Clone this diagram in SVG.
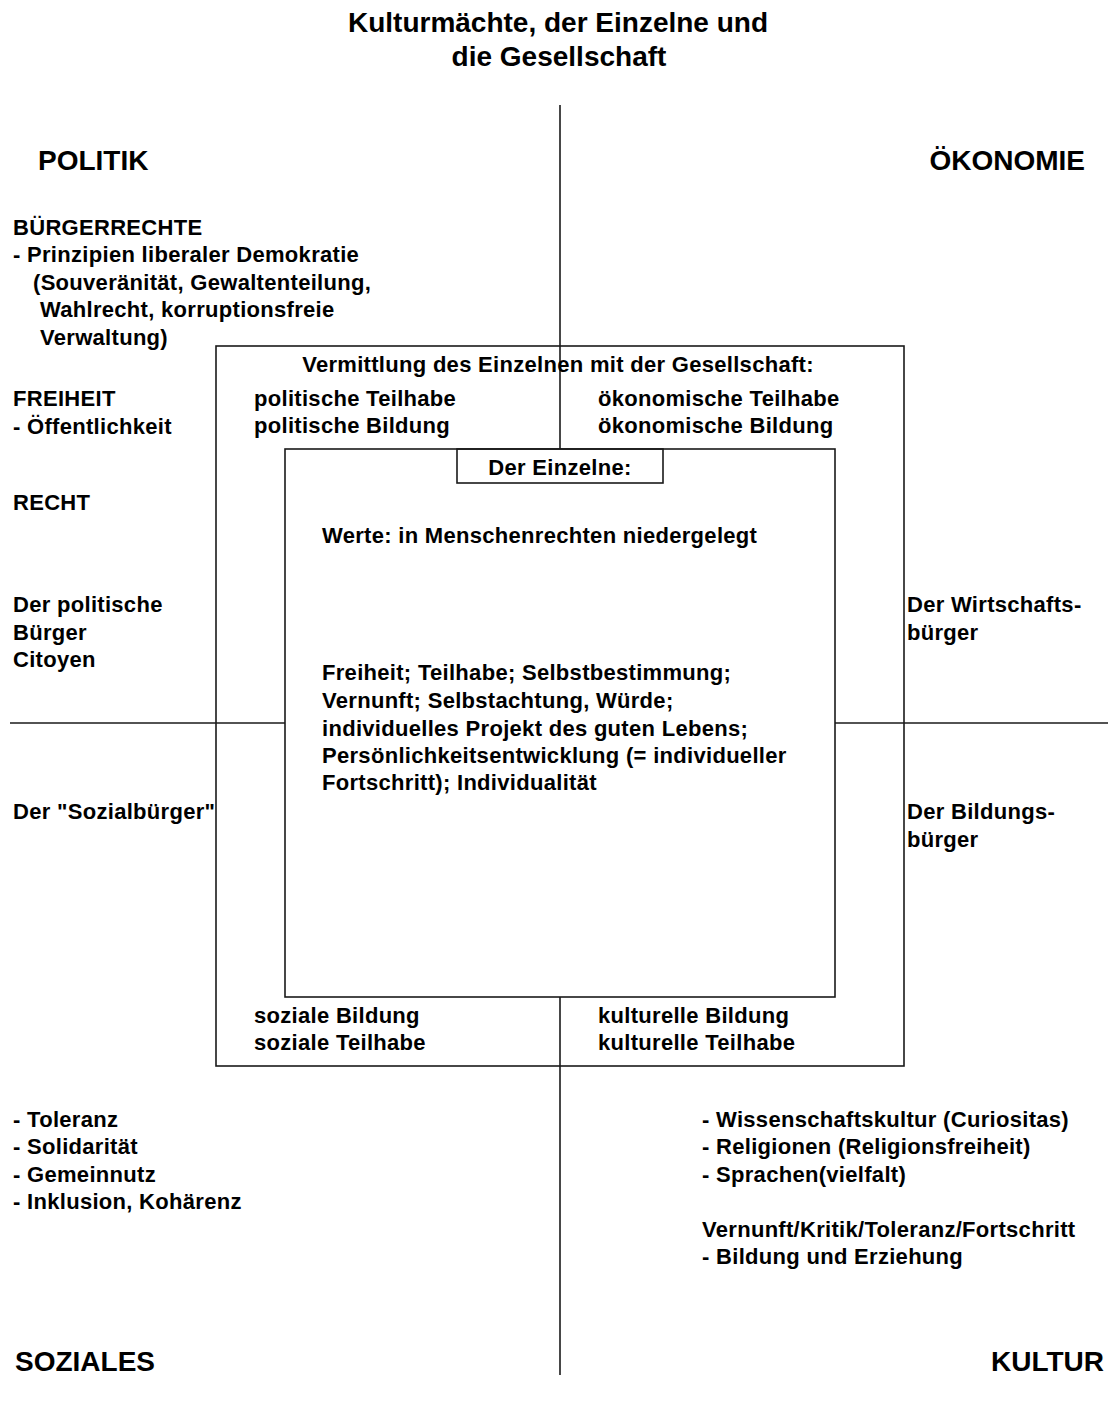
<svg xmlns="http://www.w3.org/2000/svg" width="1108" height="1407" viewBox="0 0 1108 1407">
<style>
text{font-family:"Liberation Sans",Arial,sans-serif;font-weight:bold;fill:#000;}
.t{font-size:22px;letter-spacing:0.3px;}
.h{font-size:28px;}
.c{text-anchor:middle;}
.e{text-anchor:end;}
.box{fill:none;stroke:#1a1a1a;stroke-width:1.6;}
.ax{stroke:#1a1a1a;stroke-width:1.6;fill:none;}
</style>
<rect width="1108" height="1407" fill="#fff"/>
<g id="title">
<text class="h c" x="558" y="32">Kulturmächte, der Einzelne und</text>
<text class="h c" x="559" y="66">die Gesellschaft</text>
</g>
<g id="connectors">
<line class="ax" x1="560" y1="105" x2="560" y2="449"/>
<line class="ax" x1="560" y1="997" x2="560" y2="1375"/>
<line class="ax" x1="10" y1="723" x2="285" y2="723"/>
<line class="ax" x1="835" y1="723" x2="1108" y2="723"/>
</g>
<g id="politik">
<text class="h" x="38" y="170">POLITIK</text>
<text class="t" x="13" y="235">BÜRGERRECHTE</text>
<text class="t" x="13" y="262">- Prinzipien liberaler Demokratie</text>
<text class="t" x="33" y="290">(Souveränität, Gewaltenteilung,</text>
<text class="t" x="40" y="317">Wahlrecht, korruptionsfreie</text>
<text class="t" x="40" y="345">Verwaltung)</text>
<text class="t" x="13" y="406">FREIHEIT</text>
<text class="t" x="13" y="434">- Öffentlichkeit</text>
<text class="t" x="13" y="510">RECHT</text>
<text class="t" x="13" y="612">Der politische</text>
<text class="t" x="13" y="640">Bürger</text>
<text class="t" x="13" y="667">Citoyen</text>
</g>
<g id="oekonomie">
<text class="h e" x="1085" y="170">ÖKONOMIE</text>
<text class="t" x="907" y="612">Der Wirtschafts-</text>
<text class="t" x="907" y="640">bürger</text>
</g>
<g id="soziales">
<text class="t" x="13" y="819">Der "Sozialbürger"</text>
<text class="t" x="13" y="1127">- Toleranz</text>
<text class="t" x="13" y="1154">- Solidarität</text>
<text class="t" x="13" y="1182">- Gemeinnutz</text>
<text class="t" x="13" y="1209">- Inklusion, Kohärenz</text>
<text class="h" x="15" y="1371">SOZIALES</text>
</g>
<g id="kultur">
<text class="t" x="907" y="819">Der Bildungs-</text>
<text class="t" x="907" y="847">bürger</text>
<text class="t" x="702" y="1127">- Wissenschaftskultur (Curiositas)</text>
<text class="t" x="702" y="1154">- Religionen (Religionsfreiheit)</text>
<text class="t" x="702" y="1182">- Sprachen(vielfalt)</text>
<text class="t" x="702" y="1237">Vernunft/Kritik/Toleranz/Fortschritt</text>
<text class="t" x="702" y="1264">- Bildung und Erziehung</text>
<text class="h e" x="1104" y="1371">KULTUR</text>
</g>
<g id="vermittlung">
<rect class="box" x="216" y="346" width="688" height="720"/>
<text class="t c" x="558" y="372">Vermittlung des Einzelnen mit der Gesellschaft:</text>
<text class="t" x="254" y="406">politische Teilhabe</text>
<text class="t" x="254" y="433">politische Bildung</text>
<text class="t" x="598" y="406">ökonomische Teilhabe</text>
<text class="t" x="598" y="433">ökonomische Bildung</text>
<text class="t" x="254" y="1023">soziale Bildung</text>
<text class="t" x="254" y="1050">soziale Teilhabe</text>
<text class="t" x="598" y="1023">kulturelle Bildung</text>
<text class="t" x="598" y="1050">kulturelle Teilhabe</text>
</g>
<g id="einzelne">
<rect class="box" x="285" y="449" width="550" height="548"/>
<text class="t" x="322" y="543">Werte: in Menschenrechten niedergelegt</text>
<text class="t" x="322" y="680">Freiheit; Teilhabe; Selbstbestimmung;</text>
<text class="t" x="322" y="708">Vernunft; Selbstachtung, Würde;</text>
<text class="t" x="322" y="736">individuelles Projekt des guten Lebens;</text>
<text class="t" x="322" y="763">Persönlichkeitsentwicklung (= individueller</text>
<text class="t" x="322" y="790">Fortschritt); Individualität</text>
</g>
<g id="einzelne-label">
<rect class="box" x="457" y="449" width="206" height="34"/>
<text class="t c" x="560" y="475">Der Einzelne:</text>
</g>
</svg>
